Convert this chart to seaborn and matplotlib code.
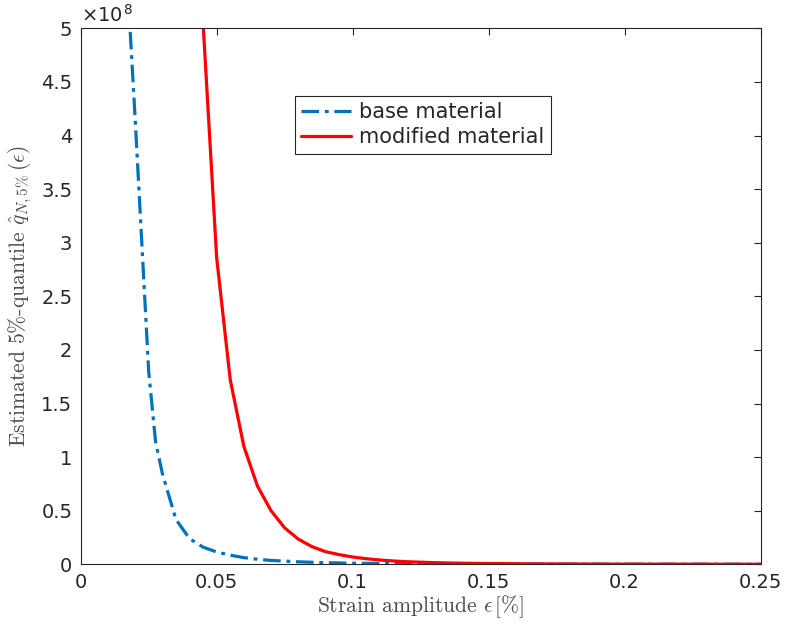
import numpy as np
import pandas as pd
import matplotlib
matplotlib.use("Agg")
import matplotlib.pyplot as plt
from matplotlib.ticker import FuncFormatter, MultipleLocator
import seaborn as sns

# ---- data ----
base_eps = [0.015, 0.02, 0.025, 0.0275, 0.03, 0.035, 0.04, 0.045, 0.05, 0.055,
            0.06, 0.065, 0.07, 0.08, 0.09, 0.10, 0.12, 0.15, 0.20, 0.25]
base_q = [6.4e8, 4.17e8, 1.80e8, 1.15e8, 0.85e8, 0.42e8, 0.24e8, 0.16e8, 0.115e8, 0.085e8,
          0.062e8, 0.047e8, 0.036e8, 0.023e8, 0.015e8, 0.010e8, 0.005e8, 0.002e8, 0.0005e8, 0.0002e8]

mod_eps = [0.045, 0.05, 0.055, 0.06, 0.065, 0.07, 0.075, 0.08, 0.085, 0.09,
           0.095, 0.10, 0.105, 0.11, 0.115, 0.12, 0.13, 0.14, 0.15, 0.17, 0.20, 0.25]
mod_q = [5.05e8, 2.86e8, 1.72e8, 1.10e8, 0.73e8, 0.50e8, 0.34e8, 0.235e8, 0.165e8, 0.118e8,
         0.09e8, 0.068e8, 0.052e8, 0.04e8, 0.031e8, 0.024e8, 0.015e8, 0.010e8, 0.007e8, 0.0035e8, 0.0015e8, 0.0005e8]

series_names = ["base material", "modified material"]
x_ticks = [0, 0.05, 0.1, 0.15, 0.2, 0.25]
y_scale_exp = 8

sns.set_style("white")
plt.rcParams["font.family"] = ["DejaVu Sans"]
plt.rcParams["mathtext.fontset"] = "cm"

axcol = (0.15, 0.15, 0.15)

fig = plt.figure(figsize=(7.85, 6.3), dpi=100)
ax = fig.add_axes([0.1028, 0.1043, 0.8660, 0.8507])

df_base = pd.DataFrame({"eps": base_eps, "q": base_q})
df_mod = pd.DataFrame({"eps": mod_eps, "q": mod_q})

sns.lineplot(data=df_base, x="eps", y="q", ax=ax, color="#0072BD", lw=2.3,
             label=series_names[0])
sns.lineplot(data=df_mod, x="eps", y="q", ax=ax, color="#FF0000", lw=2.3,
             label=series_names[1])
ax.lines[0].set_dashes([5.5, 1.8, 1.2, 1.8])
ax.lines[0].set_dash_capstyle("butt")

ax.set_xlim(0, 0.25)
ax.set_ylim(0, 5e8)
ax.set_xticks(x_ticks)
ax.xaxis.set_major_formatter(FuncFormatter(lambda v, p: f"{v:g}"))
ax.yaxis.set_major_locator(MultipleLocator(0.5e8))
ax.yaxis.set_major_formatter(FuncFormatter(lambda v, p: f"{v / 10**y_scale_exp:g}"))

ax.tick_params(axis="both", which="major", direction="in", length=5, width=0.8,
               colors=axcol, labelsize=14, top=True, right=True, pad=6)
for s in ax.spines.values():
    s.set_color(axcol)
    s.set_linewidth(0.8)
    s.set_visible(True)

ax.text(0.0, 1.005, "×10$^{\\mathregular{%d}}$" % y_scale_exp, transform=ax.transAxes,
        fontsize=14, color=axcol, ha="left", va="bottom", family="DejaVu Sans")

ax.set_xlabel(r"Strain amplitude $\epsilon\,[\%]$", fontsize=15.5, family="cmr10",
              color=(0.3, 0.3, 0.3), labelpad=1)
ax.set_ylabel(r"Estimated 5%-quantile $\hat{q}_{N,5\%}\,(\epsilon)$", fontsize=15.5,
              family="cmr10", color=(0.3, 0.3, 0.3), labelpad=5)

leg = ax.legend(loc="upper left", bbox_to_anchor=(0.315, 0.874), fontsize=15,
                frameon=True, fancybox=False, framealpha=1, edgecolor=axcol,
                handlelength=2.4, handletextpad=0.4, borderpad=0.3, labelspacing=0.25,
                borderaxespad=0)
leg.get_frame().set_linewidth(0.8)
for lh in leg.get_lines()[:1]:
    lh.set_dashes([5.5, 1.8, 1.2, 1.8])

fig.savefig("out.png", dpi=100, facecolor="white")
